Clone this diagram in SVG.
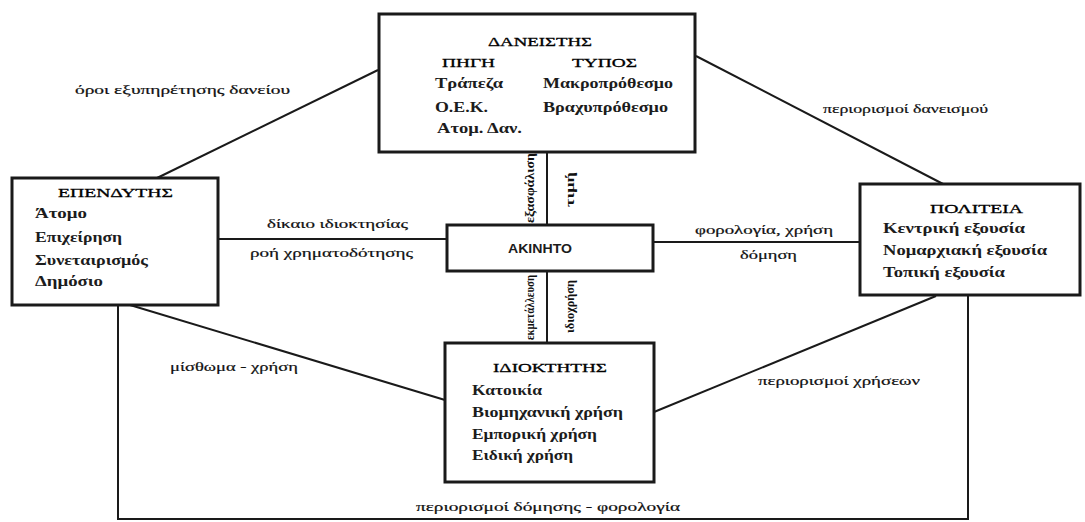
<svg xmlns="http://www.w3.org/2000/svg" width="1085" height="522" viewBox="0 0 1085 522">
<style>
.box{fill:#fff;stroke:#1a1a1a;stroke-width:3}
.ln{fill:none;stroke:#1a1a1a;stroke-width:2}
text{font-family:'Liberation Serif','DejaVu Serif',serif;font-size:14px;fill:#1c1c1c;font-weight:bold}
.t{font-size:13px;font-weight:normal;fill:#000;stroke:#000;stroke-width:0.3}
.lb{font-size:12.5px;font-weight:normal;fill:#111;stroke:#111;stroke-width:0.2}
.vt{font-size:12px;font-weight:bold;fill:#111}
.ak{font-family:'Liberation Sans','DejaVu Sans',sans-serif;font-size:12px;font-weight:bold}
</style>
<rect width="1085" height="522" fill="#fff"/>
<g id="connectors">
<line class="ln" x1="378" y1="70" x2="155" y2="179"/>
<line class="ln" x1="696" y1="56" x2="945" y2="185"/>
<line class="ln" x1="218" y1="239" x2="447" y2="239"/>
<line class="ln" x1="653" y1="242" x2="860" y2="242"/>
<line class="ln" x1="547" y1="152" x2="547" y2="225"/>
<line class="ln" x1="547" y1="271" x2="547" y2="343"/>
<line class="ln" x1="130" y1="305" x2="445" y2="400"/>
<line class="ln" x1="654" y1="412" x2="936" y2="296"/>
<polyline class="ln" points="118,305 118,519 968,519 968,295"/>
<text class="lb" x="75" y="94" textLength="215" lengthAdjust="spacingAndGlyphs">όροι εξυπηρέτησης δανείου</text>
<text class="lb" x="823" y="113" textLength="165" lengthAdjust="spacingAndGlyphs">περιορισμοί δανεισμού</text>
<text class="lb" x="267" y="228" textLength="141" lengthAdjust="spacingAndGlyphs">δίκαιο ιδιοκτησίας</text>
<text class="lb" x="250" y="257" textLength="163" lengthAdjust="spacingAndGlyphs">ροή χρηματοδότησης</text>
<text class="lb" x="695" y="234" textLength="138" lengthAdjust="spacingAndGlyphs">φορολογία, χρήση</text>
<text class="lb" x="740" y="259" textLength="57" lengthAdjust="spacingAndGlyphs">δόμηση</text>
<text class="lb" x="170" y="371" textLength="128" lengthAdjust="spacingAndGlyphs">μίσθωμα - χρήση</text>
<text class="lb" x="758" y="385" textLength="162" lengthAdjust="spacingAndGlyphs">περιορισμοί χρήσεων</text>
<text class="lb" x="416" y="511" textLength="264" lengthAdjust="spacingAndGlyphs">περιορισμοί δόμησης - φορολογία</text>
<text class="vt" transform="translate(530,223) rotate(-90)" y="4" textLength="70" lengthAdjust="spacingAndGlyphs">εξασφάλιση</text>
<text class="vt" transform="translate(570,207) rotate(-90)" y="4" textLength="35" lengthAdjust="spacingAndGlyphs">τιμή</text>
<text class="vt" transform="translate(530,340) rotate(-90)" y="4" textLength="65" lengthAdjust="spacingAndGlyphs">εκμετάλλευση</text>
<text class="vt" transform="translate(570,333) rotate(-90)" y="4" textLength="53" lengthAdjust="spacingAndGlyphs">ιδιοχρήση</text>
</g>
<g id="daneistis">
<rect class="box" x="379" y="14" width="316" height="138"/>
<text class="t" x="488" y="46" textLength="104" lengthAdjust="spacingAndGlyphs">ΔΑΝΕΙΣΤΗΣ</text>
<text class="t" x="442" y="67" textLength="53" lengthAdjust="spacingAndGlyphs">ΠΗΓΗ</text>
<text class="t" x="572" y="67" textLength="65" lengthAdjust="spacingAndGlyphs">ΤΥΠΟΣ</text>
<text x="435" y="88" textLength="68" lengthAdjust="spacingAndGlyphs">Τράπεζα</text>
<text x="543" y="88" textLength="130" lengthAdjust="spacingAndGlyphs">Μακροπρόθεσμο</text>
<text x="435" y="112" textLength="53" lengthAdjust="spacingAndGlyphs">Ο.Ε.Κ.</text>
<text x="543" y="112" textLength="125" lengthAdjust="spacingAndGlyphs">Βραχυπρόθεσμο</text>
<text x="437" y="133" textLength="85" lengthAdjust="spacingAndGlyphs">Ατομ. Δαν.</text>
</g>
<g id="ependytis">
<rect class="box" x="12" y="178" width="206" height="127"/>
<text class="t" x="58" y="197" textLength="115" lengthAdjust="spacingAndGlyphs">ΕΠΕΝΔΥΤΗΣ</text>
<text x="35" y="218" textLength="52" lengthAdjust="spacingAndGlyphs">Άτομο</text>
<text x="35" y="242" textLength="87" lengthAdjust="spacingAndGlyphs">Επιχείρηση</text>
<text x="35" y="265" textLength="113" lengthAdjust="spacingAndGlyphs">Συνεταιρισμός</text>
<text x="35" y="286" textLength="68" lengthAdjust="spacingAndGlyphs">Δημόσιο</text>
</g>
<g id="akinito">
<rect class="box" x="447" y="225" width="206" height="46"/>
<text class="ak" x="508" y="253" textLength="64" lengthAdjust="spacingAndGlyphs">ΑΚΙΝΗΤΟ</text>
</g>
<g id="politeia">
<rect class="box" x="860" y="184" width="220" height="111"/>
<text class="t" x="930" y="213" textLength="93" lengthAdjust="spacingAndGlyphs">ΠΟΛΙΤΕΙΑ</text>
<text x="883" y="233" textLength="142" lengthAdjust="spacingAndGlyphs">Κεντρική εξουσία</text>
<text x="883" y="255" textLength="164" lengthAdjust="spacingAndGlyphs">Νομαρχιακή εξουσία</text>
<text x="883" y="277" textLength="122" lengthAdjust="spacingAndGlyphs">Τοπική εξουσία</text>
</g>
<g id="idioktitis">
<rect class="box" x="445" y="343" width="209" height="139"/>
<text class="t" x="493" y="372" textLength="114" lengthAdjust="spacingAndGlyphs">ΙΔΙΟΚΤΗΤΗΣ</text>
<text x="472" y="395" textLength="70" lengthAdjust="spacingAndGlyphs">Κατοικία</text>
<text x="472" y="417" textLength="151" lengthAdjust="spacingAndGlyphs">Βιομηχανική χρήση</text>
<text x="472" y="439" textLength="125" lengthAdjust="spacingAndGlyphs">Εμπορική χρήση</text>
<text x="472" y="460" textLength="101" lengthAdjust="spacingAndGlyphs">Ειδική χρήση</text>
</g>
</svg>
